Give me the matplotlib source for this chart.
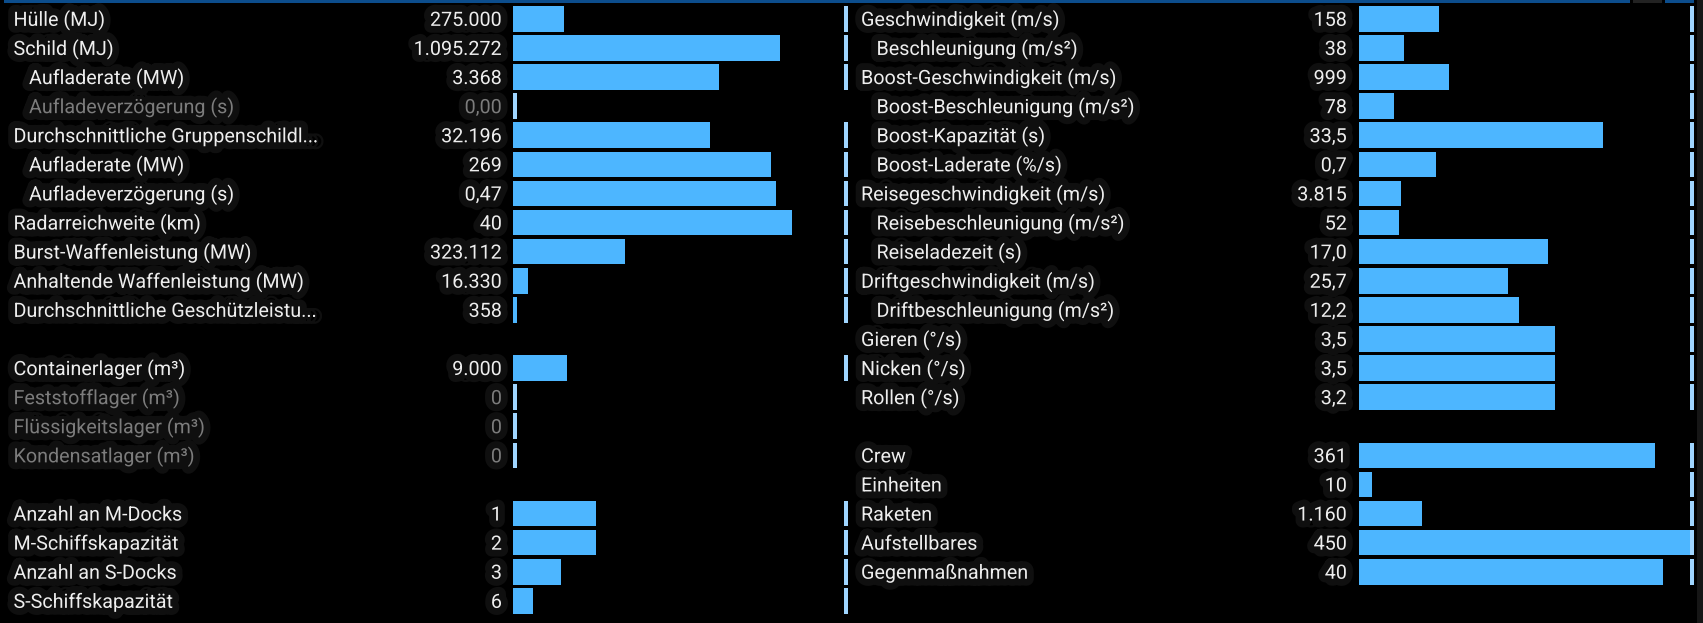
import matplotlib
matplotlib.use("Agg")
import matplotlib.pyplot as plt
import matplotlib.patheffects as pe
from matplotlib.patches import Rectangle
from matplotlib.transforms import blended_transform_factory

# ---------------- data ----------------
left_labels = ["Hülle (MJ)", "Schild (MJ)", "Aufladerate (MW)", "Aufladeverzögerung (s)",
               "Durchschnittliche Gruppenschildl...", "Aufladerate (MW)", "Aufladeverzögerung (s)",
               "Radarreichweite (km)", "Burst-Waffenleistung (MW)", "Anhaltende Waffenleistung (MW)",
               "Durchschnittliche Geschützleistu...",
               "Containerlager (m³)", "Feststofflager (m³)", "Flüssigkeitslager (m³)", "Kondensatlager (m³)",
               "Anzahl an M-Docks", "M-Schiffskapazität", "Anzahl an S-Docks", "S-Schiffskapazität"]
left_values = ["275.000", "1.095.272", "3.368", "0,00", "32.196", "269", "0,47", "40", "323.112",
               "16.330", "358", "9.000", "0", "0", "0", "1", "2", "3", "6"]
# bar length in percent of the class maximum
left_pct = [15.1, 79.6, 61.4, 0, 58.8, 77.0, 78.4, 83.2, 33.4, 4.4, 1.1,
            16.1, 0, 0, 0, 24.9, 24.9, 14.2, 5.9]
left_indent = [0, 0, 1, 1, 0, 1, 1, 0, 0, 0, 0, 0, 0, 0, 0, 0, 0, 0, 0]
left_groups = [11, 4, 4]

right_labels = ["Geschwindigkeit (m/s)", "Beschleunigung (m/s²)", "Boost-Geschwindigkeit (m/s)",
                "Boost-Beschleunigung (m/s²)", "Boost-Kapazität (s)", "Boost-Laderate (%/s)",
                "Reisegeschwindigkeit (m/s)", "Reisebeschleunigung (m/s²)", "Reiseladezeit (s)",
                "Driftgeschwindigkeit (m/s)", "Driftbeschleunigung (m/s²)", "Gieren (°/s)",
                "Nicken (°/s)", "Rollen (°/s)",
                "Crew", "Einheiten", "Raketen", "Aufstellbares", "Gegenmaßnahmen"]
right_values = ["158", "38", "999", "78", "33,5", "0,7", "3.815", "52", "17,0", "25,7", "12,2",
                "3,5", "3,5", "3,2", "361", "10", "1.160", "450", "40"]
right_pct = [23.9, 13.3, 26.9, 10.5, 72.7, 23.1, 12.6, 11.9, 56.3, 44.5, 47.8, 58.4, 58.4, 58.4,
             88.4, 3.8, 18.8, 100.0, 90.6]
right_indent = [0, 1, 0, 1, 1, 1, 0, 1, 1, 0, 1, 0, 0, 0, 0, 0, 0, 0, 0]
right_groups = [14, 5]

# ---------------- style ----------------
W, H = 1703, 623
BG = "#000000"
BAR = "#4db6ff"
MARK = "#9fd5ff"
TXT = "#eeeeee"
DIM = "#7c7c7c"
HALO = "#0f0f0f"
FONT = "Roboto"
FS = 14.2

ROW_PITCH = 29.1
ROW0_TOP = 4.3
NROWS = 21
BAR_H = 0.883
MARK_W = 1.2   # percent
MIN_W = 1.1    # percent
BASE_OFF = 7.0 / ROW_PITCH  # baseline below row centre (half cap height)

fig = plt.figure(figsize=(W / 100, H / 100), dpi=100, facecolor=BG)


def rows_from_groups(groups):
    out, r = [], 0
    for g in groups:
        out.extend(range(r, r + g))
        r += g + 1
    return out


def px_axes(x0, x1):
    top = ROW0_TOP
    bottom = ROW0_TOP + NROWS * ROW_PITCH
    return fig.add_axes([x0 / W, 1 - bottom / H, (x1 - x0) / W, (bottom - top) / H])


halo = [pe.withStroke(linewidth=10, foreground=HALO)]


def panel(bar_x0, bar_x1, label_x, indent_px, value_x, labels, values, pct, indent, groups):
    ax = px_axes(bar_x0, bar_x1)
    ax.set_facecolor("none")
    ax.set_xlim(0, 100)
    ax.set_ylim(NROWS - 0.5, -0.5)
    ax.axis("off")
    rows = rows_from_groups(groups)
    tr = blended_transform_factory(fig.transFigure, ax.transData)
    for r, lab, val, p, ind in zip(rows, labels, values, pct, indent):
        dim = p == 0
        col = DIM if dim else TXT
        if p > 0:
            ax.barh(r, max(p, MIN_W), height=BAR_H, left=0, color=BAR, linewidth=0)
            ax.barh(r, MARK_W, height=BAR_H, left=100 - MARK_W, color=MARK, linewidth=0)
        else:
            ax.barh(r, MIN_W, height=BAR_H, left=0, color=MARK, linewidth=0)
        ax.text((label_x + indent_px * ind) / W, r + BASE_OFF, lab, transform=tr, ha="left",
                va="baseline", color=col, fontsize=FS, family=FONT, path_effects=halo)
        ax.text(value_x / W, r + BASE_OFF, val, transform=tr, ha="right", va="baseline",
                color=col, fontsize=FS, family=FONT, path_effects=halo)
    return ax


panel(513, 848, 13.5, 15.5, 502, left_labels, left_values, left_pct, left_indent, left_groups)
panel(1359, 1694, 861, 15.5, 1347, right_labels, right_values, right_pct, right_indent, right_groups)

# decorative frame elements
fig.patches.append(Rectangle((4 / W, 1 - 2.7 / H), 1626 / W, 2.7 / H, transform=fig.transFigure,
                             color="#0c4d8c", linewidth=0))
fig.patches.append(Rectangle((1633 / W, 1 - 2.7 / H), 29 / W, 2.7 / H, transform=fig.transFigure,
                             color="#222222", linewidth=0))
fig.patches.append(Rectangle((1665 / W, 1 - 2.7 / H), 29 / W, 2.7 / H, transform=fig.transFigure,
                             color="#0c4d8c", linewidth=0))
fig.patches.append(Rectangle((1697 / W, 0), 6 / W, 1, transform=fig.transFigure,
                             color="#161616", linewidth=0))

fig.savefig("out.png", dpi=100, facecolor=BG)
